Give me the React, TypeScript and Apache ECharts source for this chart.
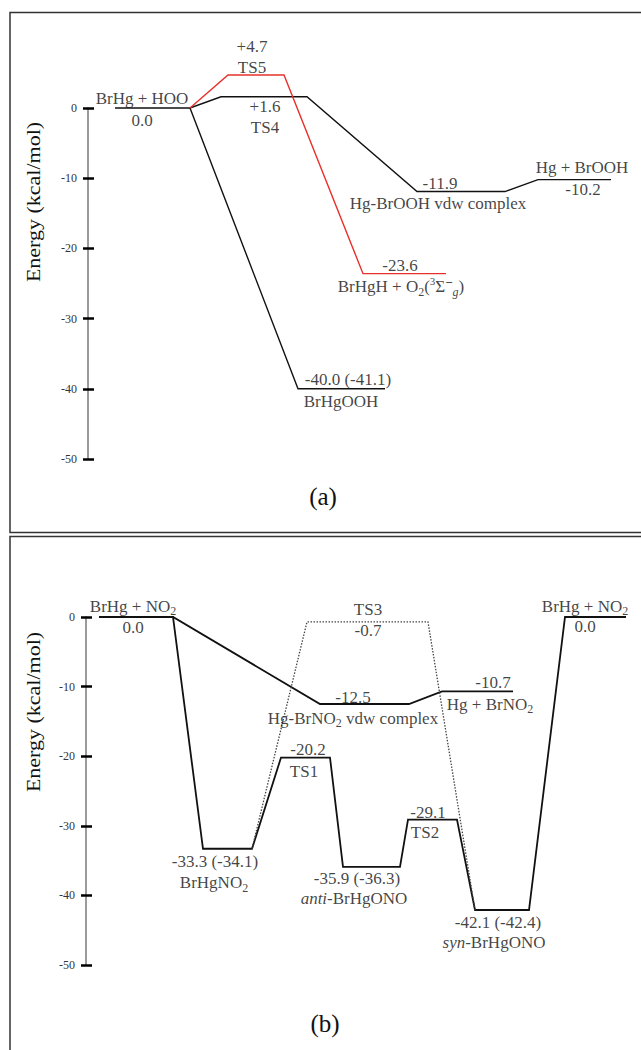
import React, { useEffect, useRef } from "react";
import * as echarts from "echarts";

// ---------- Panel (a): BrHg + HOO ----------
const aNames = [
  "BrHg + HOO",
  "TS5",
  "TS4",
  "Hg-BrOOH vdw complex",
  "Hg + BrOOH",
  "BrHgH + O{sub|2}({sup|3}Σ{supm|−}{gsub|g})",
  "BrHgOOH",
];
const aEnergies = [0.0, 4.7, 1.6, -11.9, -10.2, -23.6, -40.0];
const aValues = ["0.0", "+4.7", "+1.6", "-11.9", "-10.2", "-23.6", "-40.0 (-41.1)"];

// ---------- Panel (b): BrHg + NO2 ----------
const bNames = [
  "BrHg + NO{sub|2}",
  "BrHgNO{sub|2}",
  "TS1",
  "Hg-BrNO{sub|2} vdw complex",
  "TS3",
  "Hg + BrNO{sub|2}",
  "{i|anti}-BrHgONO",
  "TS2",
  "{i|syn}-BrHgONO",
  "BrHg + NO{sub|2}",
];
const bEnergies = [0.0, -33.3, -20.2, -12.5, -0.7, -10.7, -35.9, -29.1, -42.1, 0.0];
const bValues = ["0.0", "-33.3 (-34.1)", "-20.2", "-12.5", "-0.7", "-10.7", "-35.9 (-36.3)", "-29.1", "-42.1 (-42.4)", "0.0"];

const yTicks = { min: -50, max: 0, interval: 10 };

// ---------- layout (reaction-coordinate extents, label placement) ----------
const aSpan = [[27, 102], [140, 196], [133, 219], [329, 417], [450, 523], [275, 358], [210, 297]];
const aNamePos = [[54, -10], [164, -8], [177, 31], [350, 12], [494, -12], [313, 13], [253, 13]];
const aValuePos = [[54, 12], [164, -29], [177, 10], [352, -8], [495, 10], [312, -8], [260, -9]];
const aPaths = [
  { levels: [0, 2, 3, 4], trimStart: false, trimEnd: false, color: "#111", type: "solid", width: 1.4 },
  { levels: [0, 6], trimStart: true, trimEnd: false, color: "#111", type: "solid", width: 1.4 },
  { levels: [0, 1, 5], trimStart: true, trimEnd: false, color: "#e8302a", type: "solid", width: 1.4 },
];

const bSpan = [[13, 87], [117, 166], [195, 244], [234, 323], [221, 342], [356, 427], [257, 314], [322, 371], [389, 443], [479, 540]];
const bNamePos = [[47, -11], [128, 34], [218, 14], [267, 14], [282, -12], [404, 13], [268, 32], [339, 13], [408, 32], [499, -11]];
const bValuePos = [[47, 10], [129, 13], [222, -8], [267, -7], [282, 9], [407, -9], [271, 12], [342, -7], [412, 12], [499, 9]];
const bPaths = [
  { levels: [0, 3, 5], trimStart: false, trimEnd: false, color: "#111", type: "solid", width: 1.8 },
  { levels: [0, 1, 2, 6, 7, 8, 9], trimStart: false, trimEnd: false, color: "#111", type: "solid", width: 1.8 },
  { levels: [1, 4, 8], trimStart: true, trimEnd: true, color: "#444", type: [1.5, 1.5], width: 1.3 },
];

const FONT = "'Liberation Serif', 'Times New Roman', serif";
const INK = "#111";

const rich: any = {
  i: { fontSize: 17, fontFamily: FONT, color: INK, fontStyle: "italic", lineHeight: 22 },
  sub: { fontSize: 12, fontFamily: FONT, color: INK, lineHeight: 8, verticalAlign: "bottom" },
  sup: { fontSize: 11, fontFamily: FONT, color: INK, lineHeight: 8, verticalAlign: "top" },
  supm: { fontSize: 13, fontFamily: FONT, color: INK, lineHeight: 8, verticalAlign: "top", fontWeight: "bold" },
  gsub: { fontSize: 12, fontFamily: FONT, color: INK, fontStyle: "italic", lineHeight: 8, verticalAlign: "bottom" },
};

function buildPath(span: number[][], energies: number[], p: any) {
  const pts: number[][] = [];
  p.levels.forEach((li: number, k: number) => {
    const [x0, x1] = span[li];
    const e = energies[li];
    const first = k === 0;
    const last = k === p.levels.length - 1;
    if (!(first && p.trimStart)) pts.push([x0, e]);
    if (!(last && p.trimEnd)) pts.push([x1, e]);
  });
  return pts;
}

function lineSeries(span: number[][], energies: number[], paths: any[], gi: number) {
  return paths.map((p) => ({
    type: "line",
    xAxisIndex: gi,
    yAxisIndex: gi * 2,
    data: buildPath(span, energies, p),
    symbol: "none",
    clip: false,
    silent: true,
    z: 3,
    lineStyle: { color: p.color, width: p.width, type: p.type, cap: "butt", join: "miter" },
  }));
}

function labelSeries(names: string[], values: string[], energies: number[], namePos: number[][], valuePos: number[][], gi: number) {
  const data: any[] = [];
  energies.forEach((e, i) => {
    data.push({ name: names[i], value: [namePos[i][0], e], label: { offset: [0, namePos[i][1]] } });
    data.push({ name: values[i], value: [valuePos[i][0], e], label: { offset: [0, valuePos[i][1]] } });
  });
  return {
    type: "scatter",
    xAxisIndex: gi,
    yAxisIndex: gi * 2,
    symbolSize: 0,
    clip: false,
    silent: true,
    z: 5,
    data,
    label: {
      show: true,
      position: "inside",
      formatter: (p: any) => p.name,
      fontFamily: FONT,
      fontSize: 17,
      color: INK,
      lineHeight: 22,
      rich,
    },
  };
}

function yAxes(gi: number) {
  const common = {
    gridIndex: gi,
    type: "value",
    min: yTicks.min,
    max: yTicks.max,
    interval: yTicks.interval,
    position: "left",
    splitLine: { show: false },
  };
  return [
    {
      ...common,
      axisLine: { show: true, onZero: false, lineStyle: { color: "#7a7a7a", width: 1.5 } },
      axisTick: { show: true, length: 5, lineStyle: { color: "#000", width: 2.5 } },
      axisLabel: { margin: 11, fontSize: 12, color: "#333", fontFamily: FONT },
    },
    {
      ...common,
      axisLine: { show: false, onZero: false },
      axisTick: { show: true, inside: true, length: 6, lineStyle: { color: "#000", width: 2.5 } },
      axisLabel: { show: false },
    },
  ];
}

function buildOption() {
  return {
    animation: false,
    backgroundColor: "#fff",
    grid: [
      { left: 88, top: 108, width: 550, height: 351 },
      { left: 86, top: 617, width: 550, height: 348 },
    ],
    xAxis: [
      { gridIndex: 0, type: "value", min: 0, max: 550, show: false },
      { gridIndex: 1, type: "value", min: 0, max: 550, show: false },
    ],
    yAxis: [...yAxes(0), ...yAxes(1)],
    series: [
      ...lineSeries(aSpan, aEnergies, aPaths, 0),
      ...lineSeries(bSpan, bEnergies, bPaths, 1),
      labelSeries(aNames, aValues, aEnergies, aNamePos, aValuePos, 0),
      labelSeries(bNames, bValues, bEnergies, bNamePos, bValuePos, 1),
    ],
    graphic: [
      { type: "rect", shape: { x: 10, y: 12.5, width: 700, height: 520 }, style: { fill: "none", stroke: "#333", lineWidth: 1.5 }, silent: true },
      { type: "rect", shape: { x: 10, y: 536.5, width: 700, height: 600 }, style: { fill: "none", stroke: "#333", lineWidth: 1.5 }, silent: true },
      {
        type: "text", x: 34, y: 202, rotation: Math.PI / 2, scaleY: 0.82,
        style: { text: "Energy (kcal/mol)", fontFamily: FONT, fontSize: 22, fill: INK, align: "center", verticalAlign: "middle" },
      },
      {
        type: "text", x: 34, y: 712, rotation: Math.PI / 2, scaleY: 0.82,
        style: { text: "Energy (kcal/mol)", fontFamily: FONT, fontSize: 22, fill: INK, align: "center", verticalAlign: "middle" },
      },
      { type: "text", x: 323, y: 496, style: { text: "(a)", fontFamily: FONT, fontSize: 25, fill: INK, align: "center", verticalAlign: "middle" } },
      { type: "text", x: 325, y: 1023, style: { text: "(b)", fontFamily: FONT, fontSize: 25, fill: INK, align: "center", verticalAlign: "middle" } },
    ],
  };
}

export default function App() {
  const ref = useRef<HTMLDivElement>(null);
  useEffect(() => {
    if (!ref.current) return;
    const chart = echarts.init(ref.current, null, { renderer: "svg" });
    chart.setOption(buildOption() as any);
    return () => chart.dispose();
  }, []);
  return (
    <div
      ref={ref}
      style={{ position: "absolute", left: 0, top: 0, width: 641, height: 1050, background: "#fff" }}
    />
  );
}
